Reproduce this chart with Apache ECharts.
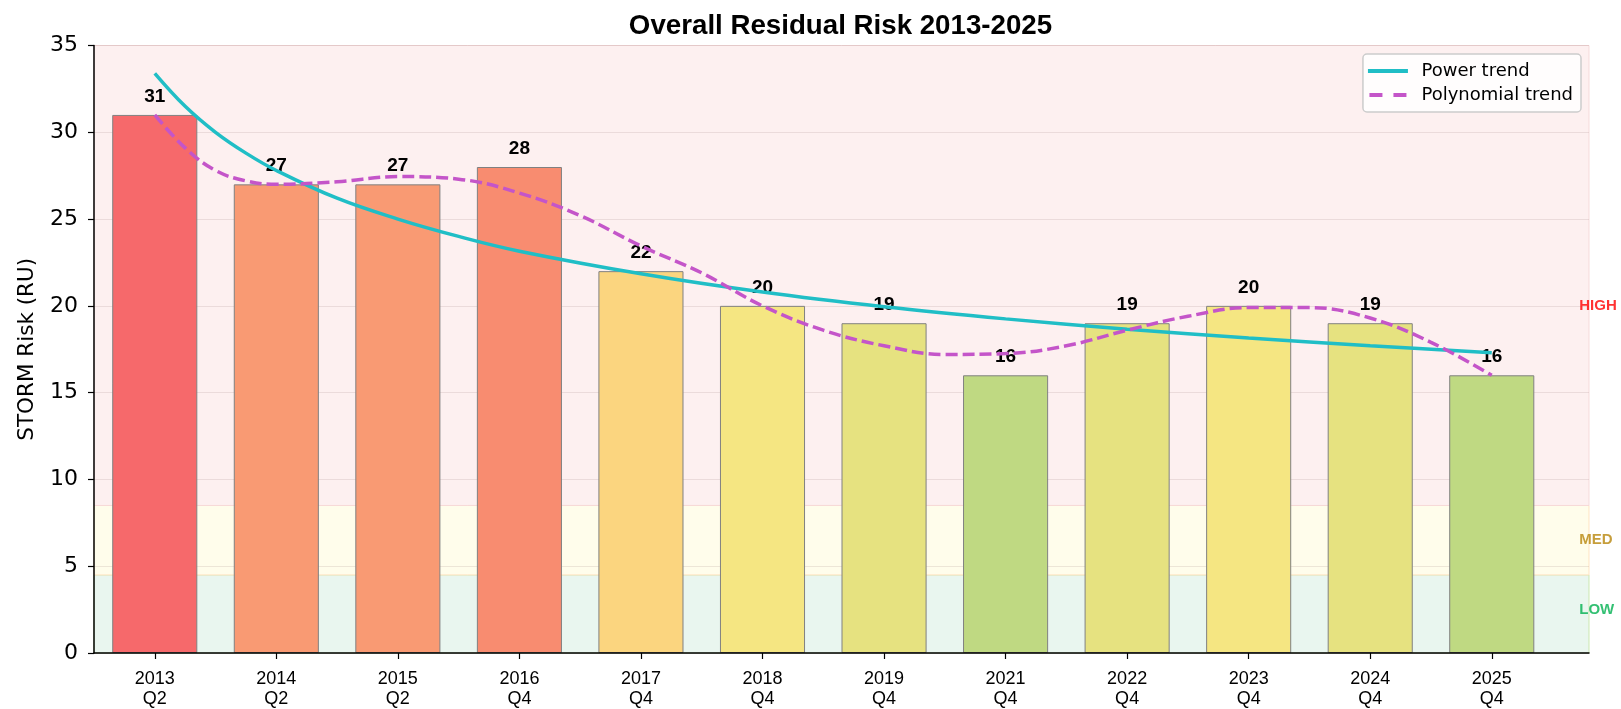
<!DOCTYPE html>
<html><head><meta charset="utf-8">
<script src="https://cdn.jsdelivr.net/npm/echarts@6/dist/echarts.min.js"></script>
<style>html,body{margin:0;padding:0;background:#fff}#c{width:1621px;height:709px}</style>
</head><body><div id="c"></div>
<script>
// ---- data ----
const categories = ['2013\nQ2','2014\nQ2','2015\nQ2','2016\nQ4','2017\nQ4','2018\nQ4','2019\nQ4','2021\nQ4','2022\nQ4','2023\nQ4','2024\nQ4','2025\nQ4'];
const riskValues = [31, 27, 27, 28, 22, 20, 19, 16, 19, 20, 19, 16];
const barColors = ['#f6696b','#f99a73','#f99a73','#f88c70','#fbd57f','#f5e682','#e6e280','#bfd982','#e6e280','#f5e682','#e6e280','#bfd982'];
const powerX = [0, 0.25, 0.5, 0.75, 1, 1.5, 2, 2.5, 3, 4, 5, 6, 7, 8, 9, 10, 11];
const powerY = [33.4, 31.5, 30.0, 28.8, 27.8, 26.2, 25.0, 24.0, 23.15, 21.85, 20.8, 19.95, 19.25, 18.65, 18.15, 17.7, 17.3];
const polyX = [0, 0.25, 0.5, 0.75, 1, 1.5, 2, 2.5, 3, 3.5, 4, 4.5, 5, 5.5, 6, 6.5, 7, 7.5, 8, 8.5, 9, 9.5, 10, 10.5, 11];
const polyY = [31.0, 29.1, 27.8, 27.2, 27.0, 27.15, 27.45, 27.3, 26.5, 25.2, 23.45, 21.9, 20.0, 18.6, 17.7, 17.2, 17.25, 17.7, 18.6, 19.4, 19.9, 19.9, 19.3, 17.9, 16.0];
const bandNames = ['LOW', 'MED', 'HIGH'];
const bandLow = [0, 4.5, 8.5];
const bandHigh = [4.5, 8.5, 35];
const bandLabelY = [2.5, 6.5, 20];

// ---- styles ----
const bandFill = ['#e9f6ef', '#fffdeb', '#fdf0f0'];
const bandEdge = ['rgba(200,230,170,0.9)', 'rgba(255,225,190,0.9)', 'rgba(245,215,215,0.9)'];
const bandTextColor = ['#00b050', '#b8860b', '#ff0000'];

const chart = echarts.init(document.getElementById('c'), null, {renderer: 'canvas'});
const gridLeft = 94, gridRight = 32, gridTop = 45.5, gridBottom = 55;
const xMin = -0.5, xMax = 11.8;
const W = chart.getWidth();
const unit = (W - gridLeft - gridRight) / (xMax - xMin);
const barW = 0.7 * unit;
const titleCenter = (gridLeft + (W - gridRight)) / 2;

const option = {
  animation: false,
  title: {
    text: 'Overall Residual Risk 2013-2025',
    left: titleCenter - 1, textAlign: 'center', top: 12, padding: 0,
    textStyle: {fontFamily: 'Liberation Sans', fontWeight: 'bold', fontSize: 27.7, color: '#000'}
  },
  legend: {
    data: [
      {name: 'Power trend', icon: 'path://M0,0H40V4H0Z'},
      {name: 'Polynomial trend', icon: 'path://M0,0H13V4H0Z M24,0H37V4H24Z'}
    ],
    orient: 'vertical', right: 40, top: 54, z: 10,
    itemWidth: 41, itemHeight: 4, itemGap: 6,
    backgroundColor: 'rgba(255,255,255,0.85)', borderColor: '#cccccc', borderWidth: 1.5, borderRadius: 4,
    padding: [8, 8, 8, 5],
    textStyle: {fontFamily: 'DejaVu Sans', fontSize: 18, color: '#000', padding: [0, 0, 0, 8]}
  },
  grid: {left: gridLeft, right: gridRight, top: gridTop, bottom: gridBottom},
  xAxis: {
    type: 'value', min: xMin, max: xMax, z: 5,
    splitLine: {show: false},
    axisLine: {onZero: false, lineStyle: {color: '#000', width: 1.5}},
    axisTick: {show: true, customValues: categories.map((c, i) => i), length: 6, lineStyle: {color: '#000', width: 1.2}},
    axisLabel: {
      customValues: categories.map((c, i) => i),
      formatter: v => categories[Math.round(v)] || '',
      fontFamily: 'Liberation Sans', fontSize: 18, lineHeight: 20, color: '#000', margin: 16
    }
  },
  yAxis: {
    type: 'value', min: 0, max: 35, interval: 5, z: 1.5,
    name: 'STORM Risk (RU)', nameLocation: 'middle', nameGap: 56,
    nameTextStyle: {fontFamily: 'DejaVu Sans', fontSize: 21.5, color: '#000'},
    axisLine: {show: true, onZero: false, lineStyle: {color: '#000', width: 1.5}},
    axisTick: {show: true, length: 6, lineStyle: {color: '#000', width: 1.2}},
    axisLabel: {fontFamily: 'DejaVu Sans', fontSize: 22, color: '#000', margin: 16},
    splitLine: {show: true, lineStyle: {color: 'rgba(140,110,110,0.16)', width: 1.2}}
  },
  series: [
    {
      type: 'custom', name: 'bands', z: 1, silent: true,
      data: bandNames.map((n, i) => [bandLow[i], bandHigh[i], i]),
      renderItem: function (params, api) {
        const lo = api.value(0), hi = api.value(1), idx = api.value(2);
        const p1 = api.coord([xMin, hi]);
        const p2 = api.coord([xMax, lo]);
        return {
          type: 'rect',
          shape: {x: p1[0], y: p1[1], width: p2[0] - p1[0], height: p2[1] - p1[1]},
          style: {fill: bandFill[idx], stroke: bandEdge[idx], lineWidth: 1}
        };
      }
    },
    {
      type: 'bar', name: 'risk', z: 2, barWidth: barW,
      data: riskValues.map((v, i) => ({value: [i, v], itemStyle: {color: barColors[i]}})),
      itemStyle: {borderColor: '#808080', borderWidth: 1},
      label: {show: true, position: 'top', distance: 9, formatter: p => p.value[1],
        fontFamily: 'Liberation Sans', fontWeight: 'bold', fontSize: 19, color: '#000'}
    },
    {
      type: 'line', name: 'Power trend', z: 3, smooth: 0.4, symbol: 'none', showSymbol: false,
      data: powerX.map((x, i) => [x, powerY[i]]),
      lineStyle: {color: '#20bec6', width: 3.5},
      itemStyle: {color: '#20bec6'}
    },
    {
      type: 'line', name: 'Polynomial trend', z: 3, smooth: 0.4, symbol: 'none', showSymbol: false,
      data: polyX.map((x, i) => [x, polyY[i]]),
      lineStyle: {color: '#c455c9', width: 3.5, type: [12, 5]},
      itemStyle: {color: '#c455c9'}
    },
    {
      type: 'scatter', name: 'bandLabels', z: 4, symbolSize: 0, silent: true,
      data: bandNames.map((n, i) => ({
        name: n, value: [11.72, bandLabelY[i]],
        label: {color: bandTextColor[i]}
      })),
      label: {show: true, formatter: '{b}', position: 'inside', align: 'left', verticalAlign: 'middle',
        fontFamily: 'Liberation Sans', fontWeight: 'bold', fontSize: 15}
    }
  ]
};
chart.setOption(option);
</script>
</body></html>
